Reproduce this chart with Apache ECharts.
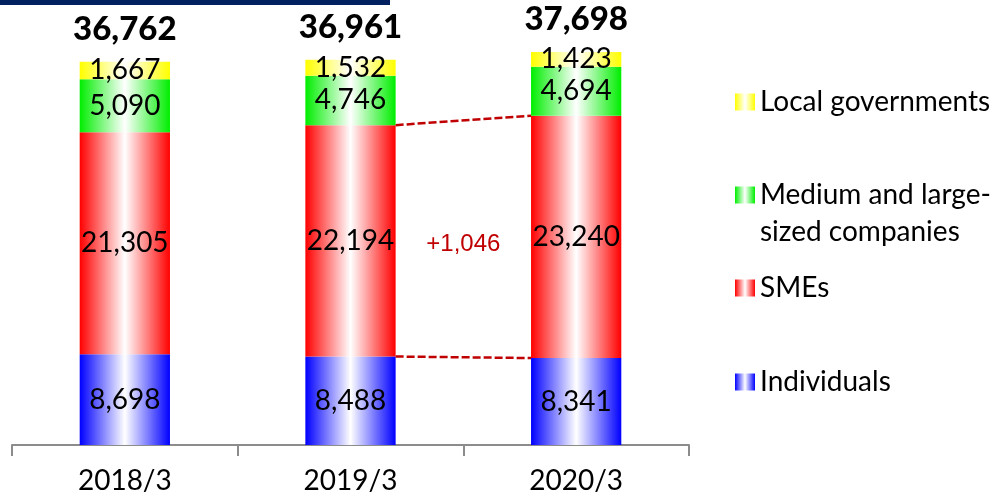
<!DOCTYPE html>
<html><head><meta charset="utf-8">
<script src="https://cdn.jsdelivr.net/npm/echarts@6/dist/echarts.min.js"></script>
<style>html,body{margin:0;padding:0;background:#fff}#c{width:1008px;height:499px}</style>
</head><body><div id="c"></div>
<script>
const categories = ['2018/3', '2019/3', '2020/3'];
const individuals = [8698, 8488, 8341];
const smes = [21305, 22194, 23240];
const mediumLarge = [5090, 4746, 4694];
const localGov = [1667, 1532, 1423];
const totals = [36762, 36961, 37698];

const FONT = 'Lato';
const fmt = v => Number(v).toLocaleString('en-US');
function grad(c) {
  return new echarts.graphic.LinearGradient(0, 0, 1, 0, [
    {offset: 0, color: c}, {offset: 0.5, color: '#ffffff'}, {offset: 1, color: c}
  ]);
}
const segLabel = {show: true, position: 'inside', color: '#000', fontFamily: FONT, fontSize: 28,
  formatter: p => fmt(p.value)};

function barSeries(name, data, color) {
  return {name, type: 'bar', stack: 'all', data, barWidth: '40%',
    itemStyle: {color: grad(color)}, label: segLabel, emphasis: {disabled: true}};
}

const smeTop = individuals.map((v, i) => v + smes[i]);
const halfBar = 0.2;
const diff = smes[2] - smes[1];
const smeMid = (individuals[1] + smes[1] / 2 + individuals[2] + smes[2] / 2) / 2;

function legendAt(name, top, extra) {
  return Object.assign({
    data: [{name: name, icon: 'rect'}], left: 735, top: top, orient: 'vertical', padding: 0,
    itemWidth: 20, itemHeight: 17, selectedMode: false,
    textStyle: {fontFamily: FONT, fontSize: 28, color: '#000', lineHeight: 30}
  }, extra || {});
}

const chart = echarts.init(document.getElementById('c'));
chart.setOption({
  animation: false,
  grid: {left: 12, right: 319, top: 28, bottom: 54},
  xAxis: [{
    type: 'category', data: categories,
    axisLine: {lineStyle: {color: '#8c8c8c', width: 2}},
    axisTick: {show: true, alignWithLabel: false, length: 11, lineStyle: {color: '#8c8c8c', width: 2}},
    axisLabel: {color: '#000', fontFamily: FONT, fontSize: 28, margin: 22}
  }, {
    type: 'value', min: -0.5, max: 2.5, show: false
  }],
  yAxis: {type: 'value', min: 0, max: 40000, show: false},
  legend: [
    legendAt('Local governments', 87),
    legendAt('Medium and large-sized companies', 180, {formatter: () => 'Medium and large-'}),
    legendAt('SMEs', 273),
    legendAt('Individuals', 367)
  ],
  graphic: [
    {type: 'rect', left: 0, top: 0, shape: {width: 390, height: 5}, style: {fill: '#002060'}},
    {type: 'text', left: 760, top: 218, style: {text: 'sized companies', fontFamily: FONT, fontSize: 28, fill: '#000'}}
  ],
  series: [
    barSeries('Individuals', individuals, '#0000ff'),
    barSeries('SMEs', smes, '#ff0000'),
    barSeries('Medium and large-sized companies', mediumLarge, '#00ee00'),
    barSeries('Local governments', localGov, '#ffff00'),
    {type: 'scatter', data: totals, symbolSize: 0, silent: true, itemStyle: {opacity: 1},
      label: {show: true, position: 'top', distance: 16, color: '#000', opacity: 1, fontFamily: FONT,
        fontWeight: 900, fontSize: 33, formatter: p => fmt(p.value)}},
    {type: 'line', xAxisIndex: 1, symbol: 'none', silent: true,
      data: [[1 + halfBar, smeTop[1]], [2 - halfBar, smeTop[2]]],
      lineStyle: {color: '#c00000', width: 2.5, type: [8, 3]}},
    {type: 'line', xAxisIndex: 1, symbol: 'none', silent: true,
      data: [[1 + halfBar, individuals[1]], [2 - halfBar, individuals[2]]],
      lineStyle: {color: '#c00000', width: 2.5, type: [8, 3]}},
    {type: 'scatter', xAxisIndex: 1, symbolSize: 0, silent: true, itemStyle: {opacity: 1},
      data: [[1.5, smeMid]],
      label: {show: true, position: 'inside', offset: [0, 6], color: '#c00000', opacity: 1,
        fontFamily: 'Liberation Sans', fontSize: 24, formatter: () => '+' + fmt(diff)}}
  ]
});
</script></body></html>
